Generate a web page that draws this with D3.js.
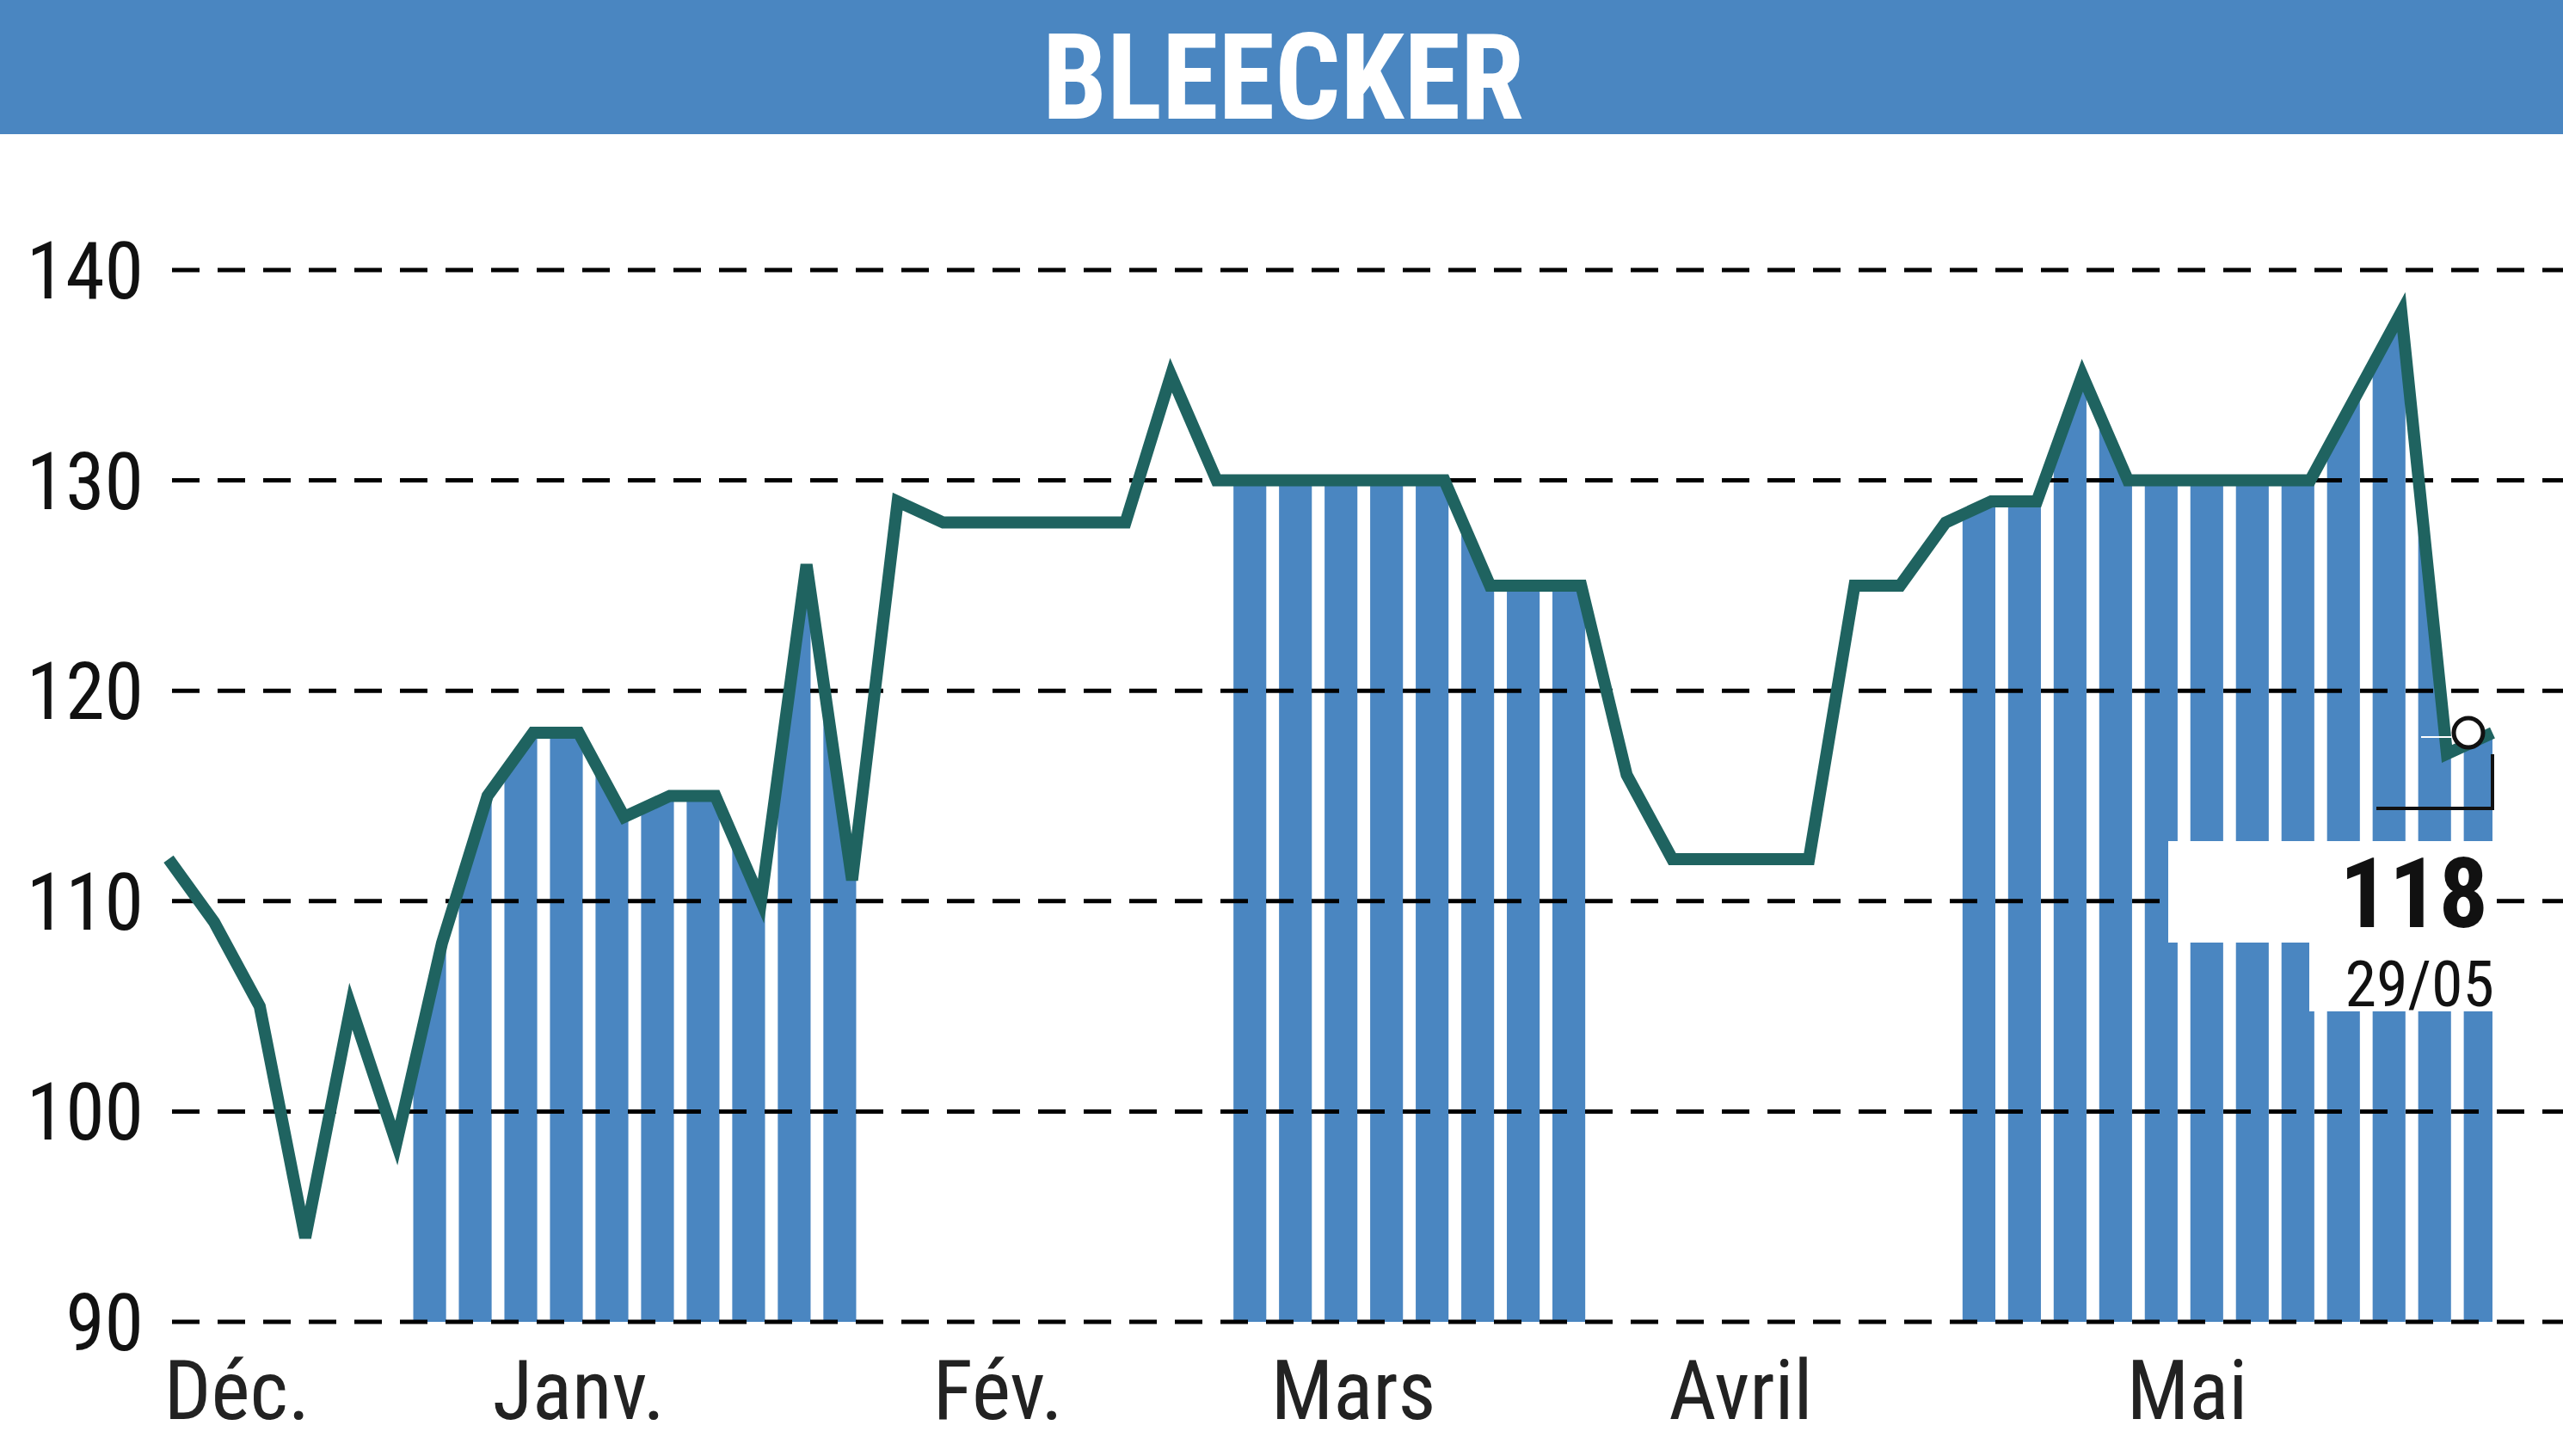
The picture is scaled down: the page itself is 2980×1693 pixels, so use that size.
<!DOCTYPE html>
<html><head><meta charset="utf-8">
<script src="https://cdn.jsdelivr.net/npm/d3@7"></script>
<style>body{margin:0;background:#fff}svg{display:block}</style>
</head><body>
<script>
const title = "BLEECKER";
const prices = [112,109,105,94,105,98.5,108,115,118,118,114,115,115,110,126,111,129,128,128,128,128,128,135,130,130,130,130,130,130,125,125,125,116,112,112,112,112,125,125,128,129,129,135,130,130,130,130,130,134,138,117,118];
const stripeRanges = [[5,14],[23,30],[39,50]];
const yTicks = [90,100,110,120,130,140];
const months = ["Déc.","Janv.","Fév.","Mars","Avril","Mai"];
const monthPos = [1.5,9,18.2,26,34.5,44.3];
const lastValue = "118", lastDate = "29/05";

const W=2980,H=1693;
const svg=d3.select("body").append("svg").attr("width",W).attr("height",H);
const font="'Liberation Sans Narrow','Roboto Condensed','Liberation Sans',sans-serif";
const blue="#4a86c1", green="#1f6360";
svg.append("rect").attr("width",W).attr("height",156).attr("fill",blue);
svg.append("text").attr("x",1492).attr("y",138).attr("text-anchor","middle").attr("fill","#fff")
 .attr("font-family",font).attr("font-weight","bold").attr("font-size",140).attr("textLength",560).attr("lengthAdjust","spacingAndGlyphs").text(title);

const x=d3.scaleLinear().domain([0,prices.length-1]).range([196,2898]);
const y=d3.scaleLinear().domain([90,140]).range([1537,314]);
const step=x(1)-x(0);

const defs=svg.append("defs");
const cp=defs.append("clipPath").attr("id","stripes");
stripeRanges.forEach(([a,b])=>{
  d3.range(a,b+1).forEach(i=>{
    cp.append("rect").attr("x",x(i)+step*0.37).attr("y",0).attr("width",step*0.72).attr("height",H);
  });
});
const area=d3.area().x((d,i)=>x(i)).y0(y(90)).y1(d=>y(d));
svg.append("path").datum(prices).attr("d",area).attr("fill",blue).attr("clip-path","url(#stripes)");

yTicks.forEach(t=>{
  svg.append("line").attr("x1",200).attr("x2",W).attr("y1",y(t)).attr("y2",y(t))
   .attr("stroke","#000").attr("stroke-width",5).attr("stroke-dasharray","32,21");
  svg.append("text").attr("x",167).attr("y",y(t)+33).attr("text-anchor","end")
   .attr("font-family",font).attr("font-size",92).attr("fill","#111").text(t);
});
months.forEach((m,i)=>{
  svg.append("text").attr("x",x(monthPos[i])).attr("y",1650).attr("text-anchor","middle")
   .attr("font-family",font).attr("font-size",96).attr("fill","#222").text(m);
});

const line=d3.line().x((d,i)=>x(i)).y(d=>y(d));
svg.append("path").datum(prices).attr("d",line).attr("fill","none").attr("stroke",green)
 .attr("stroke-width",14).attr("stroke-linejoin","miter");

const li=prices.length-1;
const mx=x(li)-28, my=y(prices[li]);
svg.append("line").attr("x1",mx-55).attr("x2",mx).attr("y1",my+5).attr("y2",my+5).attr("stroke","#fff").attr("stroke-width",2);
svg.append("path").attr("d",`M${x(li)-135},${my+88}H${x(li)}V${my+25}`).attr("fill","none").attr("stroke","#111").attr("stroke-width",4);
svg.append("circle").attr("cx",mx).attr("cy",my).attr("r",17).attr("fill","#fff").attr("stroke","#111").attr("stroke-width",5);
svg.append("rect").attr("x",2521).attr("y",978).attr("width",380).attr("height",118).attr("fill","#fff");
svg.append("rect").attr("x",2685).attr("y",1096).attr("width",216).attr("height",80).attr("fill","#fff");
svg.append("text").attr("x",2893).attr("y",1078).attr("text-anchor","end").attr("font-family",font)
 .attr("font-weight","bold").attr("font-size",114).attr("fill","#111").text(lastValue);
svg.append("text").attr("x",2900).attr("y",1170).attr("text-anchor","end").attr("font-family",font)
 .attr("font-size",74).attr("fill","#111").text(lastDate);
</script>
</body></html>
